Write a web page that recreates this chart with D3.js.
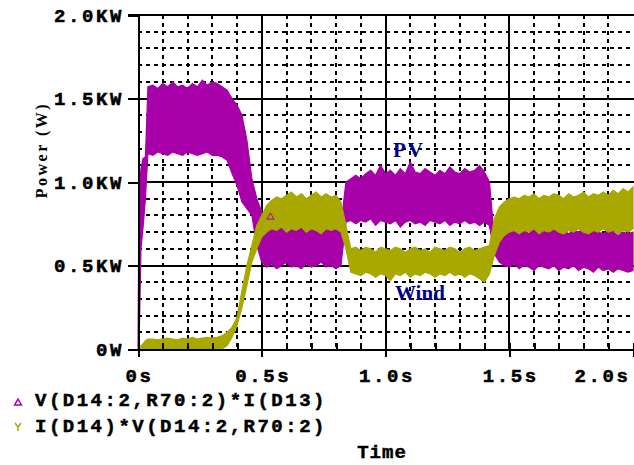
<!DOCTYPE html>
<html>
<head>
<meta charset="utf-8">
<script src="https://cdn.jsdelivr.net/npm/d3@7"></script>
<style>
  body { margin: 0; background: #fff; }
  svg { display: block; }
  .mono { font-family: "Liberation Mono", "DejaVu Sans Mono", monospace; font-weight: bold; stroke: #000; stroke-width: 0.5px; }
</style>
</head>
<body>
<svg id="chart" width="634" height="465"></svg>
<script>

// time axis (s), shared by all four envelope arrays
var times = [0, 0.004, 0.012, 0.02, 0.03, 0.04,
  0.06, 0.08, 0.10, 0.12, 0.14, 0.16, 0.18, 0.20, 0.22, 0.24, 0.26, 0.28, 0.30, 0.32, 0.34, 0.36, 0.38, 0.40,
  0.42, 0.44, 0.46, 0.48, 0.50, 0.52, 0.54, 0.56, 0.58, 0.60, 0.62, 0.64, 0.66, 0.68, 0.70, 0.72, 0.74, 0.76,
  0.78, 0.80, 0.82, 0.84, 0.86, 0.88, 0.90, 0.92, 0.94, 0.96, 0.98, 1.00, 1.02, 1.04, 1.06, 1.08, 1.10, 1.12,
  1.14, 1.16, 1.18, 1.20, 1.22, 1.24, 1.26, 1.28, 1.30, 1.32, 1.34, 1.36, 1.38, 1.40, 1.42, 1.44, 1.46, 1.48,
  1.50, 1.52, 1.54, 1.56, 1.58, 1.60, 1.62, 1.64, 1.66, 1.68, 1.70, 1.72, 1.74, 1.76, 1.78, 1.80, 1.82, 1.84,
  1.86, 1.88, 1.90, 1.92, 1.94, 1.96, 1.98, 2.00];

// PV power V(D14:2,R70:2)*I(D13), upper / lower edge of the ripple band (kW)
var pvHigh = [0, 0.95, 1.08, 1.14, 1.15, 1.57,
  1.58, 1.56, 1.59, 1.57, 1.60, 1.57, 1.58, 1.56, 1.59, 1.57, 1.61, 1.58, 1.60, 1.59, 1.57, 1.55, 1.50, 1.46,
  1.40, 1.25, 1.02, 0.90, 0.82, 0.76, 0.75, 0.76, 0.74, 0.75, 0.73, 0.76, 0.74, 0.75, 0.73, 0.76, 0.74, 0.75,
  0.73, 0.74, 0.74, 1.00, 1.02, 1.04, 1.02, 1.05, 1.07, 1.04, 1.10, 1.05, 1.07, 1.04, 1.08, 1.05, 1.12, 1.06,
  1.05, 1.08, 1.06, 1.04, 1.07, 1.05, 1.09, 1.06, 1.05, 1.08, 1.06, 1.07, 1.10, 1.06, 1.00, 0.66, 0.69, 0.71,
  0.70, 0.72, 0.70, 0.71, 0.69, 0.72, 0.70, 0.71, 0.69, 0.72, 0.70, 0.71, 0.69, 0.71, 0.70, 0.72, 0.69, 0.71,
  0.70, 0.69, 0.71, 0.70, 0.68, 0.70, 0.69, 0.70];
var pvLow = [0, 0, 0.60, 0.72, 0.90, 1.17,
  1.16, 1.18, 1.17, 1.16, 1.18, 1.17, 1.16, 1.18, 1.17, 1.16, 1.17, 1.18, 1.16, 1.16, 1.15, 1.13, 1.05, 0.98,
  0.88, 0.84, 0.80, 0.62, 0.52, 0.49, 0.51, 0.48, 0.50, 0.52, 0.49, 0.50, 0.48, 0.51, 0.49, 0.50, 0.52, 0.49,
  0.50, 0.48, 0.50, 0.76, 0.77, 0.75, 0.77, 0.76, 0.78, 0.74, 0.77, 0.76, 0.75, 0.77, 0.73, 0.76, 0.77, 0.75,
  0.76, 0.74, 0.77, 0.76, 0.75, 0.77, 0.74, 0.76, 0.75, 0.77, 0.75, 0.76, 0.74, 0.76, 0.74, 0.57, 0.52, 0.50,
  0.49, 0.51, 0.48, 0.50, 0.49, 0.47, 0.50, 0.49, 0.48, 0.50, 0.47, 0.49, 0.48, 0.50, 0.47, 0.49, 0.48, 0.46,
  0.49, 0.47, 0.48, 0.46, 0.48, 0.47, 0.46, 0.47];

// Wind power I(D14)*V(D14:2,R70:2), upper / lower edge (kW)
var windHigh = [0, 0.01, 0.02, 0.03, 0.05, 0.06,
  0.06, 0.055, 0.06, 0.065, 0.06, 0.055, 0.065, 0.06, 0.07, 0.06, 0.065, 0.07, 0.065, 0.07, 0.08, 0.10, 0.13, 0.19,
  0.35, 0.50, 0.62, 0.74, 0.80, 0.86, 0.89, 0.91, 0.90, 0.92, 0.94, 0.91, 0.93, 0.90, 0.92, 0.94, 0.91, 0.93,
  0.91, 0.92, 0.88, 0.74, 0.60, 0.61, 0.59, 0.61, 0.60, 0.58, 0.61, 0.60, 0.59, 0.61, 0.60, 0.58, 0.60, 0.61,
  0.59, 0.60, 0.58, 0.61, 0.60, 0.59, 0.61, 0.60, 0.58, 0.60, 0.61, 0.59, 0.60, 0.61, 0.62, 0.78, 0.85, 0.88,
  0.90, 0.91, 0.90, 0.92, 0.91, 0.93, 0.90, 0.92, 0.91, 0.93, 0.92, 0.90, 0.93, 0.91, 0.92, 0.94, 0.91, 0.93,
  0.92, 0.94, 0.92, 0.95, 0.93, 0.96, 0.94, 0.97];
var windLow = [0, 0, 0, 0, 0, 0,
  0, 0, 0, 0, 0, 0, 0, 0, 0, 0, 0, 0, 0, 0, 0, 0.02, 0.07, 0.14,
  0.25, 0.38, 0.52, 0.60, 0.67, 0.70, 0.72, 0.71, 0.73, 0.70, 0.72, 0.71, 0.73, 0.70, 0.72, 0.71, 0.69, 0.72,
  0.71, 0.72, 0.70, 0.60, 0.46, 0.45, 0.44, 0.46, 0.45, 0.43, 0.45, 0.44, 0.41, 0.45, 0.44, 0.46, 0.43, 0.45,
  0.44, 0.46, 0.45, 0.43, 0.45, 0.44, 0.46, 0.44, 0.45, 0.43, 0.45, 0.44, 0.42, 0.40, 0.45, 0.56, 0.64, 0.68,
  0.70, 0.71, 0.69, 0.71, 0.70, 0.72, 0.69, 0.71, 0.70, 0.72, 0.70, 0.69, 0.71, 0.70, 0.72, 0.70, 0.69, 0.71,
  0.70, 0.72, 0.70, 0.71, 0.69, 0.71, 0.70, 0.72];

var xTicks = [0, 0.5, 1.0, 1.5, 2.0],
    xTickLabels = ["0s", "0.5s", "1.0s", "1.5s", "2.0s"],
    yTicks = [0, 0.5, 1.0, 1.5, 2.0],
    yTickLabels = ["0W", "0.5KW", "1.0KW", "1.5KW", "2.0KW"],
    traceNames = ["V(D14:2,R70:2)*I(D13)", "I(D14)*V(D14:2,R70:2)"],
    traceColors = ["#a800a8", "#a8a800"];

var svg = d3.select("#chart");

var x = d3.scaleLinear().domain([0, 2.0]).range([138, 633]);
var y = d3.scaleLinear().domain([0, 2.0]).range([349, 15]);

// grid: dashed every 0.1, solid every 0.5
var minor = d3.range(1, 20).map(function(i){ return i / 10; }).filter(function(v){ return Math.round(v * 10) % 5 != 0; });
var major = [0.5, 1.0, 1.5];

var grid = svg.append("g").attr("shape-rendering", "crispEdges");
grid.selectAll(".vmin").data(minor).enter().append("line")
  .attr("x1", function(d){ return Math.round(x(d)); }).attr("x2", function(d){ return Math.round(x(d)); })
  .attr("y1", y(2.0)).attr("y2", y(0))
  .attr("stroke", "#000").attr("stroke-width", 1.5).attr("stroke-dasharray", "4,4");
grid.selectAll(".hmin").data(minor).enter().append("line")
  .attr("y1", function(d){ return Math.round(y(d)); }).attr("y2", function(d){ return Math.round(y(d)); })
  .attr("x1", x(0)).attr("x2", 634)
  .attr("stroke", "#000").attr("stroke-width", 1.5).attr("stroke-dasharray", "4,4");
grid.selectAll(".vmaj").data(major).enter().append("line")
  .attr("x1", function(d){ return Math.round(x(d)); }).attr("x2", function(d){ return Math.round(x(d)); })
  .attr("y1", y(2.0)).attr("y2", y(0))
  .attr("stroke", "#000").attr("stroke-width", 2);
grid.selectAll(".hmaj").data(major).enter().append("line")
  .attr("y1", function(d){ return Math.round(y(d)); }).attr("y2", function(d){ return Math.round(y(d)); })
  .attr("x1", x(0)).attr("x2", 634)
  .attr("stroke", "#000").attr("stroke-width", 2);

// traces as filled ripple bands
var pts = times.map(function(t, i){
  return { t: t, pvHi: pvHigh[i], pvLo: pvLow[i], wHi: windHigh[i], wLo: windLow[i] };
});

var pvArea = d3.area()
  .x(function(d){ return x(d.t); })
  .y0(function(d){ return y(d.pvLo); })
  .y1(function(d){ return y(d.pvHi); });
var windArea = d3.area()
  .x(function(d){ return x(d.t); })
  .y0(function(d){ return y(d.wLo); })
  .y1(function(d){ return y(d.wHi); });

svg.append("path").datum(pts).attr("d", pvArea)
  .attr("fill", traceColors[0]).attr("stroke", traceColors[0]).attr("stroke-width", 1.2);
svg.append("path").datum(pts).attr("d", windArea)
  .attr("fill", traceColors[1]).attr("stroke", traceColors[1]).attr("stroke-width", 1.2);

// trace symbol
svg.append("path")
  .attr("d", d3.symbol().type(d3.symbolTriangle).size(22)())
  .attr("transform", "translate(" + x(0.535) + "," + y(0.79) + ")")
  .attr("fill", "none").attr("stroke", traceColors[0]).attr("stroke-width", 1);

// axes
var xAxis = d3.axisBottom(x).tickValues(xTicks).tickSize(8)
  .tickFormat(function(d, i){ return xTickLabels[i]; });
var xMinorAxis = d3.axisBottom(x).tickValues(d3.range(0, 21).map(function(i){ return i / 10; }))
  .tickSize(-6).tickFormat("");
var yAxis = d3.axisLeft(y).tickValues(yTicks).tickSize(10)
  .tickFormat(function(d, i){ return yTickLabels[i]; });

var gx = svg.append("g").attr("transform", "translate(0," + y(0) + ")").call(xAxis);
svg.append("g").attr("transform", "translate(0," + y(0) + ")").call(xMinorAxis);
var gy = svg.append("g").attr("transform", "translate(" + x(0) + ",0)").call(yAxis);

svg.selectAll(".domain").attr("stroke", "#000").attr("stroke-width", 2);
svg.selectAll(".tick line").attr("stroke", "#000").attr("stroke-width", 2);
svg.selectAll("g").attr("shape-rendering", "crispEdges");

gx.selectAll("text").attr("class", "mono").attr("fill", "#000")
  .style("font-size", "19px").style("letter-spacing", "2.6px")
  .attr("y", 33).attr("dy", 0)
  .attr("x", function(d, i){ return i == xTicks.length - 1 ? -31 : 1; });
gy.selectAll("text").attr("class", "mono").attr("fill", "#000")
  .style("font-size", "19px").style("letter-spacing", "2.6px")
  .attr("x", -14).attr("dy", "0.32em");

// top frame line
svg.append("line").attr("x1", x(0) - 10).attr("x2", 634).attr("y1", y(2.0)).attr("y2", y(2.0))
  .attr("stroke", "#000").attr("stroke-width", 2).attr("shape-rendering", "crispEdges");

// y label
svg.append("text").attr("transform", "translate(47,150) rotate(-90)")
  .attr("text-anchor", "middle")
  .style("font-family", "Liberation Serif, serif").style("font-weight", "bold")
  .style("font-size", "16px").style("letter-spacing", "2.5px")
  .text("Power (W)");

// in-plot labels
svg.append("text").attr("x", 393).attr("y", 157)
  .style("font-family", "Liberation Serif, serif").style("font-weight", "bold")
  .style("font-size", "21px").style("letter-spacing", "2px").attr("fill", "#000088")
  .text("PV");
svg.append("text").attr("x", 395).attr("y", 300)
  .style("font-family", "Liberation Serif, serif").style("font-weight", "bold")
  .style("font-size", "21px").attr("fill", "#000088")
  .text("Wind");

// legend
var legend = svg.append("g");
legend.selectAll("text").data(traceNames).enter().append("text")
  .attr("class", "mono")
  .attr("x", 35).attr("y", function(d, i){ return 406 + i * 26; })
  .style("font-size", "19px").style("letter-spacing", "2.5px")
  .text(function(d){ return d; });
legend.append("path")
  .attr("d", d3.symbol().type(d3.symbolTriangle).size(20)())
  .attr("transform", "translate(18,403)")
  .attr("fill", "none").attr("stroke", traceColors[0]).attr("stroke-width", 1.5);
legend.append("path")
  .attr("d", "M15,423 L18,427 L21,423 M18,427 L18,431")
  .attr("fill", "none").attr("stroke", traceColors[1]).attr("stroke-width", 1.5);

svg.append("text").attr("class", "mono").attr("x", 382).attr("y", 458)
  .attr("text-anchor", "middle").style("font-size", "19px").style("letter-spacing", "1px")
  .text("Time");

</script>
</body>
</html>
